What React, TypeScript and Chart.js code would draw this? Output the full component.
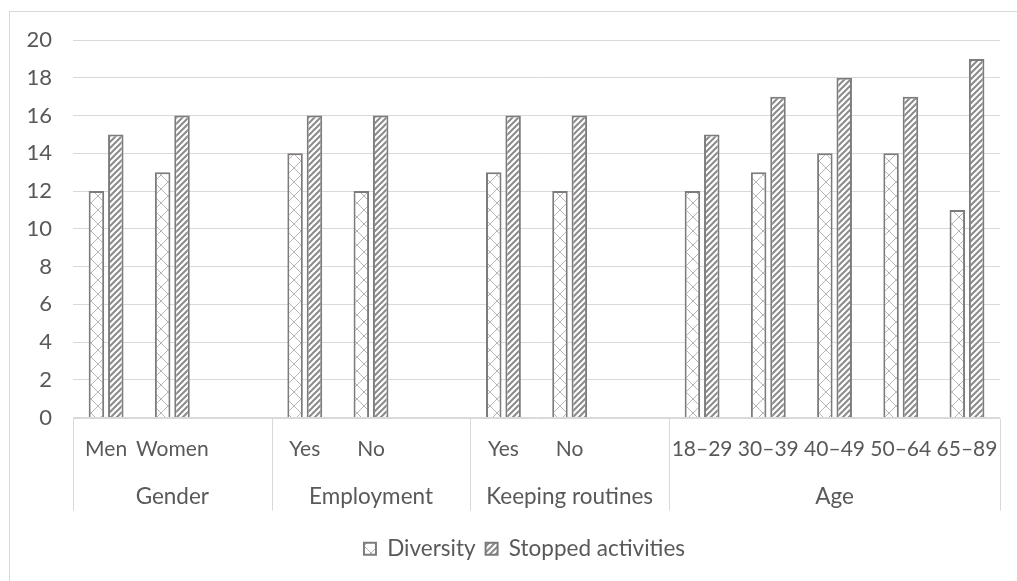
import React, { useEffect, useRef } from "react";
import { Chart, registerables } from "chart.js";

Chart.register(...registerables);

// ---- Data ----
const categories = ["Men", "Women", "", "Yes", "No", "", "Yes", "No", "", "18–29", "30–39", "40–49", "50–64", "65–89"];
const diversity = [12, 13, null, 14, 12, null, 13, 12, null, 12, 13, 14, 14, 11];
const stoppedActivities = [15, 16, null, 16, 16, null, 16, 16, null, 15, 17, 18, 17, 19];
const groupNames = ["Gender", "Employment", "Keeping routines", "Age"];
const groupSizes = [3, 3, 3, 5];
const seriesNames = ["Diversity", "Stopped activities"];
const yMin = 0;
const yMax = 20;
const yStep = 2;

// group labels placed at the middle category of each group
const groupAxisLabels: string[] = (() => {
  const out: string[] = categories.map(() => "");
  let start = 0;
  groupSizes.forEach((n, i) => {
    out[start + Math.floor((n - 1) / 2)] = groupNames[i];
    start += n;
  });
  return out;
})();

const FONT = "Lato";
const TEXT = "#595959";
const LINE = "#d9d9d9";
const BAR_BORDER = "#7f7b7b";

function makeCrossPattern(): CanvasPattern | string {
  const c = document.createElement("canvas");
  const s = 14;
  c.width = s;
  c.height = s;
  const g = c.getContext("2d");
  if (!g) return "#fff";
  g.fillStyle = "#ffffff";
  g.fillRect(0, 0, s, s);
  g.strokeStyle = "#b5b5b5";
  g.lineWidth = 1;
  g.beginPath();
  g.moveTo(0, 0);
  g.lineTo(s, s);
  g.moveTo(s, 0);
  g.lineTo(0, s);
  g.stroke();
  return g.createPattern(c, "repeat") || "#fff";
}

function makeStripePattern(): CanvasPattern | string {
  const c = document.createElement("canvas");
  const s = 6;
  c.width = s;
  c.height = s;
  const g = c.getContext("2d");
  if (!g) return "#999";
  g.fillStyle = "#ffffff";
  g.fillRect(0, 0, s, s);
  g.strokeStyle = "#8a8a8a";
  g.lineWidth = 2;
  g.beginPath();
  g.moveTo(0, s);
  g.lineTo(s, 0);
  g.moveTo(-s / 2, s / 2);
  g.lineTo(s / 2, -s / 2);
  g.moveTo(s / 2, s + s / 2);
  g.lineTo(s + s / 2, s / 2);
  g.stroke();
  return g.createPattern(c, "repeat") || "#999";
}

const separatorPlugin = {
  id: "multiLevelSeparators",
  afterLayout(chart: any) {
    // legend in the reference is centred slightly right of the canvas centre
    const l = chart.legend;
    if (l) {
      l.left += 24;
      l.right += 24;
    }
  },
  afterDraw(chart: any) {
    const x = chart.scales.x;
    const x2 = chart.scales.x2;
    const ctx = chart.ctx as CanvasRenderingContext2D;
    const area = chart.chartArea;
    const half = (x.getPixelForValue(1) - x.getPixelForValue(0)) / 2;
    const y0 = Math.round(area.bottom) + 0.5;
    const yEnd = x2.top + 43;
    ctx.save();
    ctx.strokeStyle = LINE;
    ctx.lineWidth = 1;
    ctx.beginPath();
    ctx.moveTo(area.left, y0);
    ctx.lineTo(area.right, y0);
    ctx.stroke();
    const bounds = [0];
    let acc = 0;
    groupSizes.forEach((n) => {
      acc += n;
      bounds.push(acc);
    });
    bounds.forEach((b) => {
      const px = Math.round(x.getPixelForValue(b) - half) + 0.5;
      ctx.beginPath();
      ctx.moveTo(px, y0);
      ctx.lineTo(px, yEnd);
      ctx.stroke();
    });
    ctx.restore();
  },
};

export default function App() {
  const canvasRef = useRef<HTMLCanvasElement | null>(null);

  useEffect(() => {
    const canvas = canvasRef.current;
    if (!canvas) return;
    const cross = makeCrossPattern();
    const stripes = makeStripePattern();
    const chart = new Chart(canvas, {
      type: "bar",
      data: {
        labels: categories,
        datasets: [
          {
            label: seriesNames[0],
            data: diversity,
            backgroundColor: cross as any,
            borderColor: BAR_BORDER,
            borderWidth: 2,
            categoryPercentage: 0.585,
            barPercentage: 0.8,
          },
          {
            label: seriesNames[1],
            data: stoppedActivities,
            backgroundColor: stripes as any,
            borderColor: BAR_BORDER,
            borderWidth: 2,
            categoryPercentage: 0.585,
            barPercentage: 0.8,
          },
        ],
      },
      options: {
        responsive: false,
        animation: false,
        events: [],
        layout: { padding: { left: 0, right: 16, top: 40, bottom: 11 } },
        plugins: {
          tooltip: { enabled: false },
          legend: {
            position: "bottom",
            labels: {
              color: TEXT,
              font: { family: FONT, size: 22.5 },
              boxWidth: 12,
              boxHeight: 12,
              padding: 10,
            },
          },
        },
        scales: {
          x: {
            type: "category",
            position: "bottom",
            weight: 1,
            offset: true,
            grid: { display: false, drawTicks: false },
            border: { display: false },
            ticks: {
              color: TEXT,
              font: { family: FONT, size: 21 },
              autoSkip: false,
              maxRotation: 0,
              minRotation: 0,
              padding: 19,
            },
            afterFit(scale: any) {
              scale.height = 50;
            },
          },
          x2: {
            type: "category",
            position: "bottom",
            weight: 2,
            labels: groupAxisLabels,
            offset: true,
            min: 0,
            max: categories.length - 1,
            grid: { display: false, drawTicks: false },
            border: { display: false },
            ticks: {
              color: TEXT,
              font: { family: FONT, size: 22.5 },
              autoSkip: false,
              maxRotation: 0,
              minRotation: 0,
              padding: 16,
            },
            afterFit(scale: any) {
              scale.height = 60;
            },
          },
          y: {
            type: "linear",
            min: yMin,
            max: yMax,
            grid: { color: LINE, lineWidth: 1, drawTicks: false },
            border: { display: false },
            ticks: {
              stepSize: yStep,
              color: TEXT,
              font: { family: FONT, size: 22 },
              padding: 21,
            },
            afterFit(scale: any) {
              scale.width = 73;
            },
          },
        },
      },
      plugins: [separatorPlugin],
    });
    return () => chart.destroy();
  }, []);

  return (
    <div
      style={{
        position: "fixed",
        left: 0,
        top: 0,
        width: 1017,
        height: 581,
        overflow: "hidden",
        background: "#fff",
      }}
    >
      <div
        style={{
          position: "absolute",
          left: 9,
          top: 11,
          width: 1200,
          height: 800,
          borderLeft: `1px solid ${LINE}`,
          borderTop: `1px solid ${LINE}`,
        }}
      />
      <canvas
        ref={canvasRef}
        width={1017}
        height={581}
        style={{ position: "absolute", left: 0, top: 0, width: 1017, height: 581 }}
      />
    </div>
  );
}
